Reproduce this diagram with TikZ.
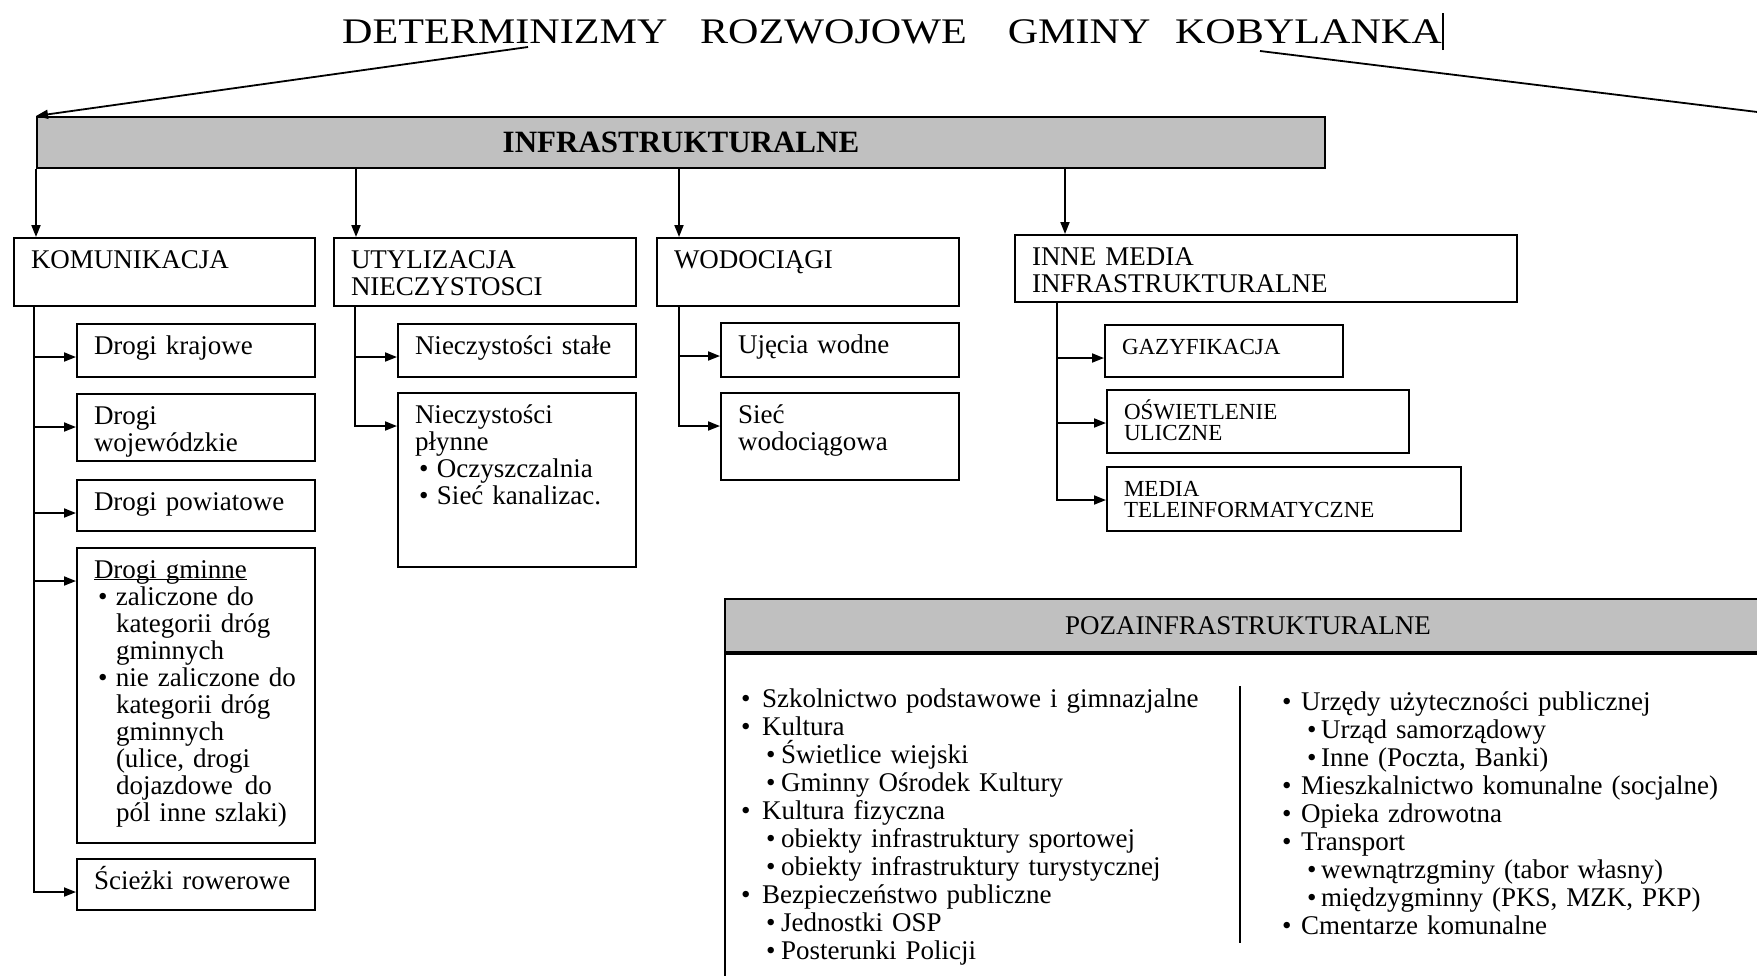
\documentclass[tikz,border=0pt]{standalone}
\usepackage{fontspec}
\usepackage{graphicx}
\setmainfont{Liberation Serif}
\usetikzlibrary{arrows.meta}

\definecolor{bargrey}{RGB}{192,192,192}
\newcommand{\bul}[2]{\hspace*{#1}\makebox[#2][l]{\textbullet}}
\newcommand{\ind}{\hspace*{22pt}}

\tikzset{
    heading/.style={anchor=base west, inner sep=0pt, font=\fontsize{36}{40}\selectfont},
    greybar/.style={draw, line width=2pt, fill=bargrey, anchor=north west, inner sep=0pt},
    box/.style={draw, line width=2pt, anchor=north west, inner xsep=17pt, inner ysep=0pt,
        align=left, text height=30pt, font=\fontsize{27}{27}\selectfont},
    smallbox/.style={box, text height=29pt, font=\fontsize{23}{21}\selectfont},
    itemlist/.style={anchor=base west, inner sep=0pt, align=left, text width=470pt,
        font=\fontsize{27}{28}\selectfont},
    link/.style={line width=1.8pt, -{Triangle[length=12pt,width=9pt]}},
    wire/.style={line width=1.8pt},
}

\begin{document}
\begin{tikzpicture}[x=1pt, y=-1pt]
    \useasboundingbox (0,0) rectangle (1757,975);
    \clip (0,0) rectangle (1757,975);

    % Title and the two lines leaving it
    \node[heading] (title) at (342,43) {\scalebox{1.17}[1]{DETERMINIZMY\hspace{28pt}ROZWOJOWE\hspace{35pt}GMINY\hspace{21pt}KOBYLANKA}\rule[-7pt]{2pt}{37pt}};
    \coordinate (tleft) at (528,47);
    \coordinate (tright) at (1260,51);
    \coordinate (offpage) at (1790,116);

    % Infrastructure group
    \node[greybar, minimum width=1288pt, minimum height=51pt, font=\fontsize{31}{31}\selectfont\bfseries] (infra) at (36,116) {INFRASTRUKTURALNE};
    \draw[link] (tleft) -- (infra.north west);
    \draw[wire] (tright) -- (offpage);

    \node[box, text width=267pt, text depth=38pt] (komunikacja) at (13,237) {KOMUNIKACJA};
    \node[box, text width=268pt, text depth=38pt] (utyl) at (333,237) {UTYLIZACJA\\NIECZYSTOSCI};
    \node[box, text width=268pt, text depth=38pt] (wodo) at (656,237) {WODOCIĄGI};
    \node[box, text width=468pt, text depth=37pt] (inne) at (1014,234) {INNE MEDIA\\INFRASTRUKTURALNE};

    % Komunikacja
    \node[box, text width=204pt, text depth=23pt] (krajowe) at (76,323) {Drogi krajowe};
    \node[box, text width=204pt, text depth=37pt] (wojew) at (76,393) {Drogi\\wojewódzkie};
    \node[box, text width=204pt, text depth=21pt] (powiat) at (76,479) {Drogi powiatowe};
    \node[box, text width=204pt, text depth=265pt] (gminne) at (76,547) {\underline{\smash{Drogi gminne}}\\
        \bul{4pt}{18pt}zaliczone do\\\ind kategorii dróg\\\ind gminnych\\
        \bul{4pt}{18pt}nie zaliczone do\\\ind kategorii dróg\\\ind gminnych\\
        \ind (ulice, drogi\\\ind dojazdowe\hspace{12pt}do\\\ind pól inne szlaki)};
    \node[box, text width=204pt, text depth=21pt] (sciezki) at (76,858) {Ścieżki rowerowe};

    % Utylizacja
    \node[box, text width=204pt, text depth=23pt] (stale) at (397,323) {Nieczystości stałe};
    \node[box, text width=204pt, text depth=144pt] (plynne) at (397,392) {Nieczystości\\płynne\\
        \bul{4pt}{18pt}Oczyszczalnia\\\bul{4pt}{18pt}Sieć kanalizac.};

    % Wodociagi
    \node[box, text width=204pt, text depth=24pt] (ujecia) at (720,322) {Ujęcia wodne};
    \node[box, text width=204pt, text depth=57pt] (siec) at (720,392) {Sieć\\wodociągowa};

    % Inne media
    \node[smallbox, text width=204pt, text depth=23pt] (gaz) at (1104,324) {GAZYFIKACJA};
    \node[smallbox, text width=268pt, text depth=34pt] (oswiet) at (1106,389) {OŚWIETLENIE\\ULICZNE};
    \node[smallbox, text width=320pt, text depth=35pt] (media) at (1106,466) {MEDIA\\TELEINFORMATYCZNE};

    % Connectors
    \foreach \p/\dx in {komunikacja/23, utyl/23, wodo/23, inne/51}
        \draw[link] ([xshift=\dx pt]\p.north west |- infra.south) -- ([xshift=\dx pt]\p.north west);
    \foreach \p/\dx/\kids in {komunikacja/21/{krajowe,wojew,powiat,gminne,sciezki},
            utyl/22/{stale,plynne}, wodo/23/{ujecia,siec}, inne/43/{gaz,oswiet,media}}
        \foreach \c in \kids
            \draw[link] ([xshift=\dx pt]\p.south west) |- ([yshift=-34pt]\c.north west);

    % Pozainfrastrukturalne
    \node[greybar, minimum width=1046pt, minimum height=53pt, font=\fontsize{27}{27}\selectfont] (poza) at (724,598) {POZAINFRASTRUKTURALNE};
    \node[draw, line width=2pt, anchor=north west, inner sep=0pt, minimum width=1046pt, minimum height=340pt] (pozabody) at (poza.south west) {};

    \node[itemlist] (leftlist) at (741,707) {\bul{0pt}{21pt}Szkolnictwo podstawowe i gimnazjalne\\
        \bul{0pt}{21pt}Kultura\\
        \bul{25pt}{15pt}Świetlice wiejski\\
        \bul{25pt}{15pt}Gminny Ośrodek Kultury\\
        \bul{0pt}{21pt}Kultura fizyczna\\
        \bul{25pt}{15pt}obiekty infrastruktury sportowej\\
        \bul{25pt}{15pt}obiekty infrastruktury turystycznej\\
        \bul{0pt}{21pt}Bezpieczeństwo publiczne\\
        \bul{25pt}{15pt}Jednostki OSP\\
        \bul{25pt}{15pt}Posterunki Policji};
    \node[itemlist] (rightlist) at (1282,710) {\bul{0pt}{19pt}Urzędy użyteczności publicznej\\
        \bul{25pt}{14pt}Urząd samorządowy\\
        \bul{25pt}{14pt}Inne (Poczta, Banki)\\
        \bul{0pt}{19pt}Mieszkalnictwo komunalne (socjalne)\\
        \bul{0pt}{19pt}Opieka zdrowotna\\
        \bul{0pt}{19pt}Transport\\
        \bul{25pt}{14pt}wewnątrzgminy (tabor własny)\\
        \bul{25pt}{14pt}międzygminny (PKS, MZK, PKP)\\
        \bul{0pt}{19pt}Cmentarze komunalne};
    \draw[line width=2pt] (1240,686) -- (1240,943);
\end{tikzpicture}
\end{document}
